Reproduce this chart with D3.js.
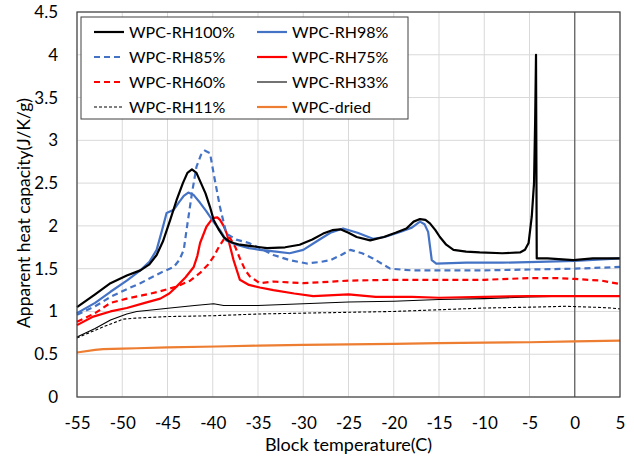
<!DOCTYPE html>
<html>
    <head>
        <meta charset="utf-8" />
        <title>Apparent heat capacity</title>
        <script src="https://d3js.org/d3.v7.min.js"></script>
        <style>
            body {
                margin: 0;
                background: #fff;
            }
            svg text {
                font-family: Lato, 'Open Sans', sans-serif;
                fill: #000;
            }
        </style>
    </head>
    <body>
        <svg id="chart" width="634" height="457"></svg>
        <script>
            // tick values
            var xTicks = [-55, -50, -45, -40, -35, -30, -25, -20, -15, -10, -5, 0, 5];
            var yTicks = [0, 0.5, 1, 1.5, 2, 2.5, 3, 3.5, 4, 4.5];

            // series
            var rh100T = [-55, -53, -51.3, -49.5, -48, -47, -46.2, -45.5, -44.7, -44, -43.3, -42.8, -42.3, -41.8, -41.3, -40.8, -40.3, -39.9, -39.3, -38.8, -38.2, -37.7, -37, -35.5, -34, -32, -30.4, -29, -27.8, -26.8, -25.9, -25, -24.1, -22.6, -21.1, -19.8, -18.6, -17.8, -17.1, -16.5, -16, -15.4, -14.9, -14.2, -13.4, -12, -10.5, -8, -6.05, -5.5, -5.1, -4.75, -4.5, -4.38, -4.28, -4.2, -3, -0.15, 2, 5];
            var rh100V = [1.05, 1.2, 1.33, 1.42, 1.48, 1.55, 1.66, 1.82, 2.07, 2.3, 2.5, 2.62, 2.66, 2.62, 2.5, 2.38, 2.22, 2.07, 1.95, 1.87, 1.82, 1.8, 1.78, 1.76, 1.74, 1.75, 1.78, 1.84, 1.91, 1.95, 1.96, 1.92, 1.87, 1.83, 1.87, 1.92, 1.97, 2.05, 2.08, 2.07, 2.03, 1.95, 1.87, 1.78, 1.72, 1.7, 1.69, 1.68, 1.69, 1.72, 1.8, 2.11, 2.5, 3.2, 4.0, 1.62, 1.62, 1.6, 1.62, 1.62];

            var rh98T = [-55, -53, -51.3, -49.5, -48, -47, -46.2, -45.6, -45.1, -44.3, -43.7, -43.2, -42.7, -42.1, -41.4, -40.7, -40, -39.2, -38.5, -37.4, -36, -34.8, -33, -31.5, -30, -28.5, -27, -25.6, -24, -22.3, -21, -19.3, -18, -17.1, -16.6, -16.2, -15.8, -15.3, -12, -8, -4, 0, 5];
            var rh98V = [0.98, 1.1, 1.23, 1.36, 1.48, 1.58, 1.72, 1.95, 2.15, 2.19, 2.28, 2.35, 2.39, 2.36, 2.27, 2.17, 2.06, 1.95, 1.83, 1.78, 1.74, 1.72, 1.7, 1.68, 1.72, 1.82, 1.92, 1.97, 1.92, 1.85, 1.87, 1.93, 1.98, 2.05, 2.02, 1.93, 1.6, 1.56, 1.57, 1.57, 1.58, 1.59, 1.62];

            var rh85T = [-55, -53, -51.3, -49.5, -48, -45.8, -44.3, -43.7, -43.2, -42.9, -42.3, -41.8, -41.3, -40.9, -40.3, -39.9, -39.2, -38.5, -37.4, -36, -34.8, -33.3, -31.5, -29.6, -28, -27, -25.8, -24.8, -23.5, -22.3, -20.4, -18, -15, -10, -5, 0, 5];
            var rh85V = [0.96, 1.06, 1.17, 1.26, 1.33, 1.45, 1.52, 1.6, 1.72, 1.95, 2.38, 2.69, 2.83, 2.88, 2.85, 2.61, 2.22, 1.91, 1.84, 1.8, 1.74, 1.66, 1.6, 1.56, 1.58, 1.6, 1.66, 1.72, 1.68, 1.62, 1.5, 1.48, 1.48, 1.48, 1.49, 1.5, 1.52];

            var rh75T = [-55, -53.2, -51.3, -49.5, -47.5, -45.8, -44.8, -44, -43, -42.1, -41.7, -41.4, -40.7, -40, -39.5, -39.2, -38.8, -38.45, -37.7, -37, -36, -34.8, -33.3, -31, -28.9, -25, -22, -18, -15, -10, -5, 0, 5];
            var rh75V = [0.84, 0.94, 1.0, 1.04, 1.1, 1.15, 1.21, 1.29, 1.4, 1.52, 1.65, 1.8, 1.99, 2.09, 2.1, 2.07, 2.0, 1.91, 1.6, 1.37, 1.31, 1.28, 1.25, 1.21, 1.18, 1.2, 1.17, 1.17, 1.16, 1.17, 1.18, 1.18, 1.18];

            var rh60T = [-55, -53, -51.3, -49.5, -47.7, -46, -44, -42.5, -41.4, -40.5, -39.9, -39.3, -38.8, -38.1, -37.5, -37, -36.4, -35.9, -34.8, -33.3, -30, -25, -20, -15, -10, -5, -2, 0, 3, 5];
            var rh60V = [0.88, 0.98, 1.1, 1.15, 1.19, 1.23, 1.29, 1.36, 1.45, 1.55, 1.64, 1.76, 1.84, 1.86, 1.75, 1.62, 1.48, 1.41, 1.33, 1.35, 1.33, 1.36, 1.37, 1.37, 1.37, 1.39, 1.39, 1.38, 1.36, 1.32];

            var rh33T = [-55, -53, -51.3, -49.5, -48.4, -46.5, -44.7, -42, -39.9, -38.8, -35, -30, -25, -20, -15, -10, -5, 0, 5];
            var rh33V = [0.7, 0.8, 0.9, 0.97, 1.0, 1.02, 1.04, 1.07, 1.09, 1.07, 1.07, 1.09, 1.11, 1.12, 1.14, 1.15, 1.17, 1.18, 1.18];

            var rh11T = [-55, -53, -52.1, -49.9, -48.8, -45, -40, -35, -30, -25, -20, -15, -10, -5, -1, 2, 4, 5];
            var rh11V = [0.69, 0.78, 0.82, 0.91, 0.92, 0.94, 0.95, 0.97, 0.98, 0.99, 1.0, 1.02, 1.04, 1.05, 1.06, 1.05, 1.04, 1.03];

            var driedT = [-55, -53, -52.1, -50, -48.4, -45, -39.6, -35, -30, -25, -20, -15, -10, -5, 0, 5];
            var driedV = [0.52, 0.55, 0.56, 0.565, 0.57, 0.58, 0.59, 0.6, 0.61, 0.615, 0.62, 0.63, 0.635, 0.64, 0.65, 0.66];

            var series = [
                { name: 'WPC-RH100%', t: rh100T, v: rh100V, color: '#000000', width: 2.2, dash: null },
                { name: 'WPC-RH98%', t: rh98T, v: rh98V, color: '#4472C4', width: 2.2, dash: null },
                { name: 'WPC-RH85%', t: rh85T, v: rh85V, color: '#4472C4', width: 2.2, dash: '6,4' },
                { name: 'WPC-RH75%', t: rh75T, v: rh75V, color: '#FF0000', width: 2.2, dash: null },
                { name: 'WPC-RH60%', t: rh60T, v: rh60V, color: '#FF0000', width: 2.2, dash: '6,4' },
                { name: 'WPC-RH33%', t: rh33T, v: rh33V, color: '#000000', width: 1.1, dash: null },
                { name: 'WPC-RH11%', t: rh11T, v: rh11V, color: '#000000', width: 1.1, dash: '3,2' },
                { name: 'WPC-dried', t: driedT, v: driedV, color: '#ED7D31', width: 2.2, dash: null }
            ];

            var svg = d3.select('#chart');
            var margin = { top: 12, right: 14, bottom: 60, left: 77 };
            var width = 634 - margin.left - margin.right;
            var height = 457 - margin.top - margin.bottom;

            var x = d3.scaleLinear().domain([-55, 5]).range([0, width]);
            var y = d3.scaleLinear().domain([0, 4.5]).range([height, 0]);

            var g = svg.append('g').attr('transform', 'translate(' + margin.left + ',' + margin.top + ')');

            // gridlines
            g.selectAll('.vgrid')
                .data(xTicks)
                .enter()
                .append('line')
                .attr('x1', (d) => x(d))
                .attr('x2', (d) => x(d))
                .attr('y1', 0)
                .attr('y2', height)
                .style('stroke', '#d9d9d9')
                .style('stroke-width', 1);

            g.selectAll('.hgrid')
                .data(yTicks)
                .enter()
                .append('line')
                .attr('x1', 0)
                .attr('x2', width)
                .attr('y1', (d) => y(d))
                .attr('y2', (d) => y(d))
                .style('stroke', '#d9d9d9')
                .style('stroke-width', 1);

            // axis line at x = 0
            g.append('line')
                .attr('x1', x(0))
                .attr('x2', x(0))
                .attr('y1', 0)
                .attr('y2', height)
                .style('stroke', '#595959')
                .style('stroke-width', 1.2);

            // curves
            var line = d3
                .line()
                .x((d) => x(d[0]))
                .y((d) => y(d[1]));

            g.selectAll('.series')
                .data(series.slice().reverse())
                .enter()
                .append('path')
                .attr('d', (s) => line(d3.zip(s.t, s.v)))
                .style('fill', 'none')
                .style('stroke', (s) => s.color)
                .style('stroke-width', (s) => s.width)
                .style('stroke-dasharray', (s) => s.dash)
                .style('stroke-linejoin', 'round');

            // plot border
            g.append('rect')
                .attr('width', width)
                .attr('height', height)
                .style('fill', 'none')
                .style('stroke', '#404040')
                .style('stroke-width', 1.2);

            // axes labels
            var xAxis = d3.axisBottom(x).tickValues(xTicks).tickSize(0).tickPadding(20).tickFormat((d) => String(d));
            var xg = g.append('g').attr('transform', 'translate(0,' + height + ')').call(xAxis);
            xg.select('.domain').remove();
            xg.selectAll('text').style('font-size', '17px').style('fill', '#000');

            var yAxis = d3.axisLeft(y).tickValues(yTicks).tickSize(0).tickPadding(19).tickFormat((d) => String(d));
            var yg = g.append('g').call(yAxis);
            yg.select('.domain').remove();
            yg.selectAll('text').style('font-size', '17px').style('fill', '#000');

            svg.append('text')
                .attr('x', margin.left + width / 2)
                .attr('y', 451)
                .attr('text-anchor', 'middle')
                .style('font-size', '18px')
                .text('Block temperature(C)');

            svg.append('text')
                .attr('transform', 'translate(30,213) rotate(-90)')
                .attr('text-anchor', 'middle')
                .style('font-size', '17.5px')
                .text('Apparent heat capacity(J/K/g)');

            // legend
            var legend = svg.append('g');
            legend
                .append('rect')
                .attr('x', 81)
                .attr('y', 17)
                .attr('width', 327)
                .attr('height', 102)
                .style('fill', '#fff')
                .style('stroke', '#404040')
                .style('stroke-width', 1);

            var items = legend
                .selectAll('.item')
                .data(series)
                .enter()
                .append('g')
                .attr('transform', (d, i) => 'translate(' + (i % 2 === 0 ? 94 : 257) + ',' + (32 + Math.floor(i / 2) * 25) + ')');

            items
                .append('line')
                .attr('x1', 0)
                .attr('x2', 30)
                .style('stroke', (s) => s.color)
                .style('stroke-width', (s) => s.width)
                .style('stroke-dasharray', (s) => s.dash);

            items
                .append('text')
                .attr('x', 35)
                .attr('dy', '0.35em')
                .style('font-size', '16px')
                .text((s) => s.name);
        </script>
    </body>
</html>
